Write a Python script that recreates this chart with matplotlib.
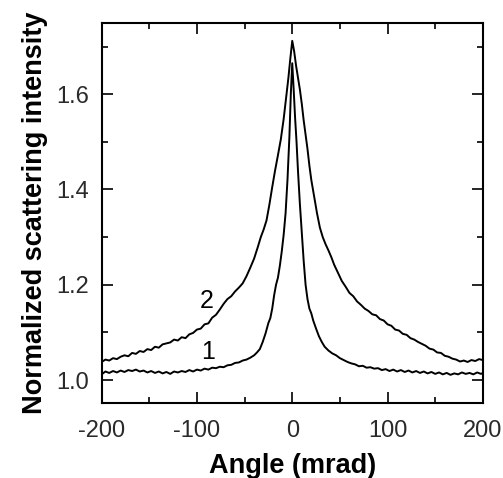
import matplotlib
matplotlib.use("Agg")
from matplotlib import pyplot as plt
from matplotlib.ticker import MultipleLocator

# curve 2 (broad), angle in mrad vs normalized intensity
angle_2 = [-200, -196, -192, -188, -184, -180, -176, -172, -168, -164, -160, -156,
           -152, -148, -144, -140, -136, -132, -128, -124, -120, -116, -112, -108,
           -104, -100, -96, -92, -88, -84, -80, -76, -72, -68, -64, -60, -56, -52,
           -48, -44, -40, -36, -33, -30, -27, -24, -21, -18, -15, -12, -9, -6, -4,
           -2, 0, 2, 4, 6, 8, 10, 12, 14, 16, 18, 20, 23, 26, 29, 32, 35, 38, 41,
           44, 48, 52, 56, 60, 64, 68, 72, 76, 80, 84, 88, 92, 96, 100, 104, 108,
           112, 116, 120, 124, 128, 132, 136, 140, 144, 148, 152, 156, 160, 164,
           168, 172, 176, 180, 184, 188, 192, 196, 200]
intensity_2 = [1.038, 1.043, 1.041, 1.046, 1.044, 1.049, 1.052, 1.050, 1.057, 1.055,
               1.061, 1.059, 1.065, 1.063, 1.070, 1.068, 1.075, 1.077, 1.079, 1.085,
               1.083, 1.090, 1.088, 1.096, 1.099, 1.106, 1.108, 1.117, 1.119, 1.131,
               1.137, 1.148, 1.160, 1.170, 1.176, 1.186, 1.194, 1.203, 1.218, 1.236,
               1.255, 1.280, 1.300, 1.316, 1.335, 1.368, 1.405, 1.440, 1.472, 1.505,
               1.548, 1.600, 1.635, 1.675, 1.712, 1.690, 1.660, 1.635, 1.610, 1.580,
               1.545, 1.515, 1.485, 1.450, 1.420, 1.385, 1.350, 1.320, 1.300, 1.285,
               1.272, 1.258, 1.242, 1.225, 1.208, 1.196, 1.183, 1.176, 1.165, 1.158,
               1.150, 1.145, 1.138, 1.136, 1.128, 1.125, 1.117, 1.114, 1.106, 1.104,
               1.097, 1.095, 1.088, 1.085, 1.080, 1.076, 1.072, 1.066, 1.064, 1.058,
               1.057, 1.051, 1.049, 1.045, 1.043, 1.039, 1.041, 1.038, 1.042, 1.040,
               1.044, 1.042]

# curve 1 (narrow)
angle_1 = [-200, -196, -192, -188, -184, -180, -176, -172, -168, -164, -160, -156,
           -152, -148, -144, -140, -136, -132, -128, -124, -120, -116, -112, -108,
           -104, -100, -96, -92, -88, -84, -80, -76, -72, -68, -64, -60, -56, -52,
           -48, -44, -40, -37, -34, -31, -28, -25, -23, -21, -19, -17, -15, -13,
           -11, -9, -7, -5, -3, -1.5, 0, 1.5, 3, 4.5, 6, 8, 10, 12, 14, 16, 18, 20,
           22, 25, 28, 31, 34, 38, 42, 46, 50, 54, 58, 62, 66, 70, 74, 78, 82, 86,
           90, 94, 98, 102, 106, 110, 114, 118, 122, 126, 130, 134, 138, 142, 146,
           150, 154, 158, 162, 166, 170, 174, 178, 182, 186, 190, 194, 198, 200]
intensity_1 = [1.012, 1.018, 1.015, 1.019, 1.016, 1.020, 1.017, 1.021, 1.019, 1.022,
               1.018, 1.020, 1.016, 1.019, 1.015, 1.018, 1.014, 1.017, 1.013, 1.018,
               1.016, 1.019, 1.017, 1.021, 1.018, 1.022, 1.020, 1.024, 1.022, 1.026,
               1.025, 1.028, 1.027, 1.031, 1.032, 1.036, 1.037, 1.041, 1.043, 1.047,
               1.052, 1.058, 1.065, 1.080, 1.098, 1.120, 1.130, 1.150, 1.178, 1.200,
               1.215, 1.240, 1.270, 1.305, 1.350, 1.420, 1.510, 1.600, 1.665, 1.610,
               1.550, 1.500, 1.440, 1.370, 1.310, 1.250, 1.200, 1.170, 1.150, 1.140,
               1.125, 1.108, 1.092, 1.080, 1.070, 1.062, 1.056, 1.052, 1.046, 1.042,
               1.038, 1.035, 1.033, 1.029, 1.030, 1.026, 1.027, 1.024, 1.025, 1.021,
               1.023, 1.019, 1.022, 1.018, 1.021, 1.017, 1.020, 1.016, 1.019, 1.015,
               1.018, 1.014, 1.017, 1.013, 1.016, 1.012, 1.015, 1.011, 1.014, 1.012,
               1.016, 1.013, 1.015, 1.012, 1.016, 1.013, 1.015]

x_ticks = [-200, -100, 0, 100, 200]
y_ticks = [1.0, 1.2, 1.4, 1.6]

plt.rcParams['font.family'] = ['Liberation Sans', 'DejaVu Sans']

fig = plt.figure(figsize=(5.03, 4.78), dpi=100)
ax = fig.add_axes([0.202, 0.157, 0.758, 0.7955])

ax.plot(angle_2, intensity_2, color='black', lw=1.4)
ax.plot(angle_1, intensity_1, color='black', lw=1.4)

ax.text(-90, 1.166, '2', fontsize=18, ha='center', va='center')
ax.text(-88, 1.058, '1', fontsize=18, ha='center', va='center')

ax.set_xlim(-200, 200)
ax.set_ylim(0.952, 1.75)
ax.set_xticks(x_ticks)
ax.set_xticklabels([str(t) for t in x_ticks])
ax.set_yticks(y_ticks)
ax.set_yticklabels([f'{t:.1f}' for t in y_ticks])
ax.xaxis.set_minor_locator(MultipleLocator(50))
ax.yaxis.set_minor_locator(MultipleLocator(0.1))

ax.tick_params(which='both', direction='in', top=True, right=True, width=1.2,
               labelsize=17, labelcolor='#2a2a2a')
ax.tick_params(which='major', length=8)
ax.tick_params(which='minor', length=4)
ax.tick_params(axis='y', pad=9)
ax.tick_params(axis='x', pad=12)
for s in ax.spines.values():
    s.set_linewidth(1.5)

ax.set_xlabel('Angle (mrad)', fontsize=19.5, fontweight='bold', labelpad=8)
ax.set_ylabel('Normalized scattering intensity', fontsize=19.5, fontweight='bold',
              labelpad=6)

fig.savefig('out.png', dpi=100)
